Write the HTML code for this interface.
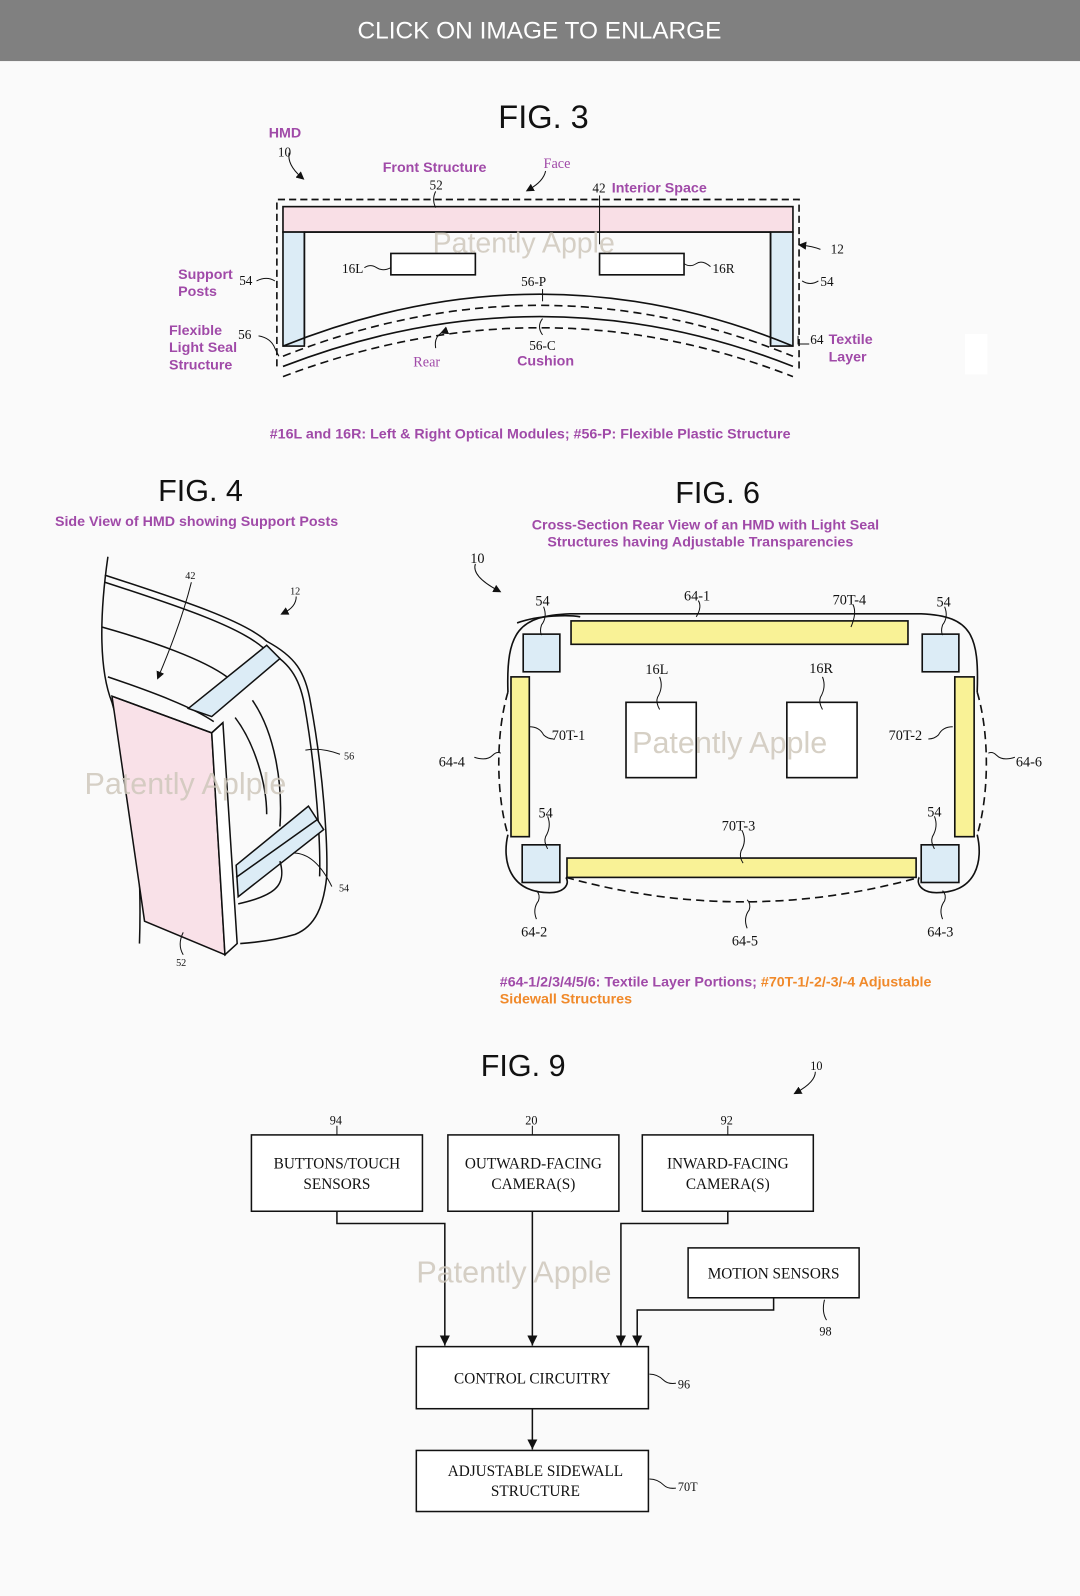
<!DOCTYPE html>
<html><head><meta charset="utf-8"><style>
html,body{margin:0;padding:0;background:#fafafa;}
svg{display:block;}
.s{font-family:"Liberation Serif",serif;fill:#111;}
.t{font-family:"Liberation Sans",sans-serif;font-weight:bold;fill:#a04aa8;}
.o{fill:#f0892a;}
.fig{font-family:"Liberation Sans",sans-serif;fill:#111;}
.wm{font-family:"Liberation Sans",sans-serif;fill:#cfc8bc;opacity:.85;}
</style></head><body>
<svg width="1080" height="1596" viewBox="0 0 1061 1568" preserveAspectRatio="none" xmlns="http://www.w3.org/2000/svg">
<defs>
<marker id="ah" markerWidth="10" markerHeight="10" refX="10" refY="5" orient="auto" markerUnits="userSpaceOnUse" viewBox="0 0 10 10"><path d="M0,0 L10,5 L0,10Z" fill="#111"/></marker>
<marker id="sa" markerWidth="8" markerHeight="8" refX="4" refY="4" orient="auto" markerUnits="userSpaceOnUse" viewBox="0 0 8 8"><path d="M0,0 L8,4 L0,8Z" fill="#111"/></marker>
</defs>
<rect width="1061" height="1568" fill="#fafafa"/>
<rect width="1061" height="60" fill="#808080"/>
<text x="530" y="38" text-anchor="middle" font-family="Liberation Sans,sans-serif" font-size="24" fill="#fff">CLICK ON IMAGE TO ENLARGE</text>

<!-- FIG 3 -->
<text x="534" y="126" text-anchor="middle" class="fig" font-size="32">FIG. 3</text>
<g stroke="#111" fill="none" stroke-width="1.6">
<path d="M272,360 L272,196 L785,196 L785,366" stroke-dasharray="7,4"/>
<rect x="278" y="203" width="501" height="25" fill="#f9dfe6"/>
<rect x="278" y="228" width="21" height="112" fill="#dcecf6"/>
<rect x="757" y="228" width="22" height="112" fill="#dcecf6"/>
<path d="M299,228 L757,228" />
<path d="M299,228 L299,338"/><path d="M757,228 L757,338"/>
<path d="M278,340 Q532,238 779,340"/>
<path d="M278,350 Q532,250 779,350" stroke-dasharray="8,5"/>
<path d="M278,360 Q532,262 779,360"/>
<path d="M278,370 Q532,274 779,370" stroke-dasharray="8,5"/>
<rect x="384" y="249" width="83" height="21" fill="#fff"/>
<rect x="589" y="249" width="83" height="21" fill="#fff"/>
<path d="M358,263 q6,-4 12,0 t14,0" stroke-width="1"/>
<path d="M672,259 q6,4 12,0 t14,3" stroke-width="1"/>
<path d="M252,276 q10,-5 18,0" stroke-width="1"/>
<path d="M788,276 q8,5 16,0" stroke-width="1"/>
<path d="M254,330 q12,2 16,12 l4,8" stroke-width="1"/>
<path d="M428,188 q-4,8 0,16" stroke-width="1"/>
<path d="M589,192 L589,240" stroke-width="1"/>
<path d="M533,284 L533,296" stroke-width="1"/>
<path d="M533,313 q-6,8 0,16" stroke-width="1"/>
<path d="M284,150 q-2,12 12,24" stroke-width="1" marker-end="url(#sa)"/>
<path d="M536,168 q-2,10 -16,18" stroke-width="1" marker-end="url(#sa)"/>
<path d="M806,245 q-8,-3 -18,-4" stroke-width="1" marker-end="url(#sa)"/>
<path d="M436,326 q-10,4 -8,16" stroke-width="1" marker-start="url(#sa)"/>
<path d="M784,330 L784,338 L795,338" stroke-width="1"/>
</g>
<text x="425" y="240" class="wm" font-size="28" transform="translate(0,8)" opacity=".7">Patently Apple</text>
<g class="s" font-size="13">
<text x="273" y="154">10</text><text x="422" y="186">52</text><text x="582" y="189">42</text>
<text x="336" y="268">16L</text><text x="700" y="268">16R</text>
<text x="235" y="280">54</text><text x="806" y="281">54</text>
<text x="234" y="333">56</text><text x="512" y="281">56-P</text><text x="520" y="344">56-C</text>
<text x="796" y="338">64</text><text x="816" y="249">12</text>
</g>
<g class="t" font-size="14">
<text x="264" y="135">HMD</text><text x="376" y="169">Front Structure</text>
<text x="534" y="165" font-family="Liberation Serif,serif" font-weight="normal">Face</text>
<text x="601" y="189">Interior Space</text>
<text x="175" y="274">Support</text><text x="175" y="291">Posts</text>
<text x="166" y="329">Flexible</text><text x="166" y="346">Light Seal</text><text x="166" y="363">Structure</text>
<text x="406" y="360" font-family="Liberation Serif,serif" font-weight="normal">Rear</text>
<text x="508" y="359">Cushion</text>
<text x="814" y="338">Textile</text><text x="814" y="355">Layer</text>
<text x="265" y="431">#16L and 16R: Left &amp; Right Optical Modules; #56-P: Flexible Plastic Structure</text>
</g>

<!-- FIG 4 -->
<text x="197" y="492" text-anchor="middle" class="fig" font-size="30">FIG. 4</text>
<text x="54" y="517" class="t" font-size="14">Side View of HMD showing Support Posts</text>
<g stroke="#111" fill="none" stroke-width="1.5">
<path d="M106,547 C97,610 98,660 110,690 C130,760 140,840 137,927"/>
<path d="M103,565 C180,590 240,610 262,630 C290,645 300,660 305,690 C318,760 322,830 321,861 C318,890 310,910 290,918 C270,924 250,926 236,927"/>
<path d="M103,572 C180,597 235,616 258,636 C284,650 294,665 299,692 C311,760 315,830 314,861"/>
<path d="M100,616 C150,630 200,648 223,665"/>
<path d="M106,665 C150,680 190,695 210,709"/>
<path d="M248,688 C270,720 278,770 275,812"/>
<path d="M231,705 C250,730 262,770 262,800"/>
<polygon points="185,696 262,634 275,647 208,704" fill="#dcecf6"/>
<polygon points="232,850 303,792 318,815 234,881" fill="#dcecf6"/>
<path d="M232,862 L312,805"/>
<path d="M275,846 C282,870 270,880 234,888"/>
<polygon points="110,684 208,720 221,938 142,905" fill="#f9e1e8"/>
<polygon points="208,720 219,710 233,927 221,938" fill="#fff"/>
<path d="M110,684 L208,720 L219,710"/>
<path d="M300,737 q15,-3 34,4" stroke-width="1"/>
<path d="M288,838 q22,0 38,33" stroke-width="1"/>
<path d="M188,572 q-10,40 -32,92" stroke-width="1" marker-end="url(#sa)"/>
<path d="M291,586 q0,10 -12,16" stroke-width="1" marker-end="url(#sa)"/>
<path d="M180,916 q-6,12 0,22" stroke-width="1"/>
</g>
<g class="s" font-size="10"><text x="182" y="569">42</text><text x="285" y="584">12</text><text x="338" y="746">56</text><text x="333" y="876">54</text><text x="173" y="949">52</text></g>
<text x="83" y="780" class="wm" font-size="30">Patently Aplple</text>

<!-- FIG 6 -->
<text x="705" y="494" text-anchor="middle" class="fig" font-size="30">FIG. 6</text>
<g class="t" font-size="14" text-anchor="middle"><text x="693" y="520">Cross-Section Rear View of an HMD with Light Seal</text><text x="688" y="537">Structures having Adjustable Transparencies</text></g>
<g stroke="#111" fill="none" stroke-width="1.6">
<path d="M499,680 C497,620 510,605 560,603 L905,603 C955,605 962,625 960,680"/>
<path d="M499,680 C487,720 487,780 499,820" stroke-dasharray="8,5"/>
<path d="M960,680 C972,720 972,780 960,820" stroke-dasharray="8,5"/>
<path d="M499,820 C493,845 500,877 540,877 C555,877 560,868 556,862"/>
<path d="M960,820 C966,845 960,877 920,877 C905,877 900,868 903,862"/>
<path d="M556,862 Q730,910 903,862" stroke-dasharray="8,5"/>
<path d="M508,612 C530,604 560,604 570,606"/>
<rect x="514" y="623" width="36" height="37" fill="#dcecf6"/>
<rect x="906" y="623" width="36" height="37" fill="#dcecf6"/>
<rect x="513" y="830" width="37" height="37" fill="#dcecf6"/>
<rect x="905" y="830" width="37" height="37" fill="#dcecf6"/>
<rect x="561" y="610" width="331" height="23" fill="#f9f296"/>
<rect x="502" y="665" width="18" height="157" fill="#f9f296"/>
<rect x="938" y="665" width="19" height="157" fill="#f9f296"/>
<rect x="557" y="843" width="343" height="19" fill="#f9f296"/>
<rect x="615" y="690" width="69" height="74" fill="#fff"/>
<rect x="773" y="690" width="69" height="74" fill="#fff"/>
<g stroke-width="1">
<path d="M648,665 q4,10 -2,20 q-2,5 2,12"/><path d="M808,665 q4,10 -2,20 q-2,5 2,12"/>
<path d="M534,596 q4,10 -2,18 q-2,6 0,10"/><path d="M928,596 q4,10 -2,18 q-2,6 0,10"/>
<path d="M686,590 q4,6 -2,16"/><path d="M838,594 q4,8 -2,22"/>
<path d="M520,714 q10,0 14,8 q4,4 10,4"/><path d="M936,714 q-10,0 -14,8 q-4,4 -10,4"/>
<path d="M466,744 q12,4 18,-2 q4,-4 8,-2"/><path d="M997,744 q-12,4 -18,-2 q-4,-4 -8,-2"/>
<path d="M538,802 q4,10 -2,20 q-2,5 2,12"/><path d="M918,802 q4,10 -2,20 q-2,5 2,12"/>
<path d="M729,816 q5,10 -1,20 q-2,6 2,12"/>
<path d="M527,903 q-4,-10 2,-18 q2,-6 -2,-10"/><path d="M926,903 q-4,-10 2,-18 q2,-6 -2,-10"/>
<path d="M734,912 q-4,-10 2,-18 q2,-6 -2,-10"/>
<path d="M467,554 q-4,12 22,26" marker-end="url(#sa)"/>
</g>
</g>
<text x="621" y="740" class="wm" font-size="30">Patently Apple</text>
<g class="s" font-size="14">
<text x="462" y="553">10</text><text x="526" y="595">54</text><text x="672" y="590">64-1</text><text x="818" y="594">70T-4</text><text x="920" y="596">54</text>
<text x="634" y="662">16L</text><text x="795" y="661">16R</text><text x="542" y="727">70T-1</text><text x="873" y="727">70T-2</text>
<text x="431" y="753">64-4</text><text x="998" y="753">64-6</text><text x="529" y="803">54</text><text x="709" y="816">70T-3</text><text x="911" y="802">54</text>
<text x="512" y="920">64-2</text><text x="719" y="929">64-5</text><text x="911" y="920">64-3</text>
</g>
<g class="t" font-size="14"><text x="491" y="969">#64-1/2/3/4/5/6: Textile Layer Portions; <tspan class="o">#70T-1/-2/-3/-4 Adjustable</tspan></text><text x="491" y="986" class="t o">Sidewall Structures</text></g>
<rect x="948" y="328" width="22" height="40" fill="#fff"/>

<!-- FIG 9 -->
<text x="514" y="1057" text-anchor="middle" class="fig" font-size="30">FIG. 9</text>
<g stroke="#111" fill="#fff" stroke-width="1.5">
<rect x="247" y="1115" width="168" height="75"/><rect x="440" y="1115" width="168" height="75"/><rect x="631" y="1115" width="168" height="75"/>
<rect x="676" y="1226" width="168" height="49"/><rect x="409" y="1323" width="228" height="61"/><rect x="409" y="1425" width="228" height="60"/>
</g>
<g stroke="#111" fill="none" stroke-width="1.5">
<path d="M331,1190 V1202 H437 V1322" marker-end="url(#ah)"/>
<path d="M523,1190 V1322" marker-end="url(#ah)"/>
<path d="M715,1190 V1202 H610 V1322" marker-end="url(#ah)"/>
<path d="M760,1275 V1287 H626 V1322" marker-end="url(#ah)"/>
<path d="M523,1384 V1424" marker-end="url(#ah)"/>
<g stroke-width="1"><path d="M331,1106 V1115"/><path d="M523,1106 V1115"/><path d="M715,1106 V1115"/>
<path d="M810,1277 q-3,12 2,20"/><path d="M638,1350 q8,0 14,6 q4,4 12,3"/><path d="M638,1453 q8,0 14,6 q4,4 12,3"/>
<path d="M801,1053 q0,10 -18,20" marker-end="url(#sa)"/></g>
</g>
<g class="s" font-size="15" text-anchor="middle">
<text x="331" y="1148">BUTTONS/TOUCH</text><text x="331" y="1168">SENSORS</text>
<text x="524" y="1148">OUTWARD-FACING</text><text x="524" y="1168">CAMERA(S)</text>
<text x="715" y="1148">INWARD-FACING</text><text x="715" y="1168">CAMERA(S)</text>
<text x="760" y="1256">MOTION SENSORS</text><text x="523" y="1359">CONTROL CIRCUITRY</text>
<text x="526" y="1450">ADJUSTABLE SIDEWALL</text><text x="526" y="1470">STRUCTURE</text>
</g>
<g class="s" font-size="12"><text x="324" y="1105">94</text><text x="516" y="1105">20</text><text x="708" y="1105">92</text><text x="796" y="1051">10</text>
<text x="805" y="1312">98</text><text x="666" y="1364">96</text><text x="666" y="1465">70T</text></g>
<text x="409" y="1260" class="wm" font-size="30">Patently Apple</text>
</svg>
</body></html>
